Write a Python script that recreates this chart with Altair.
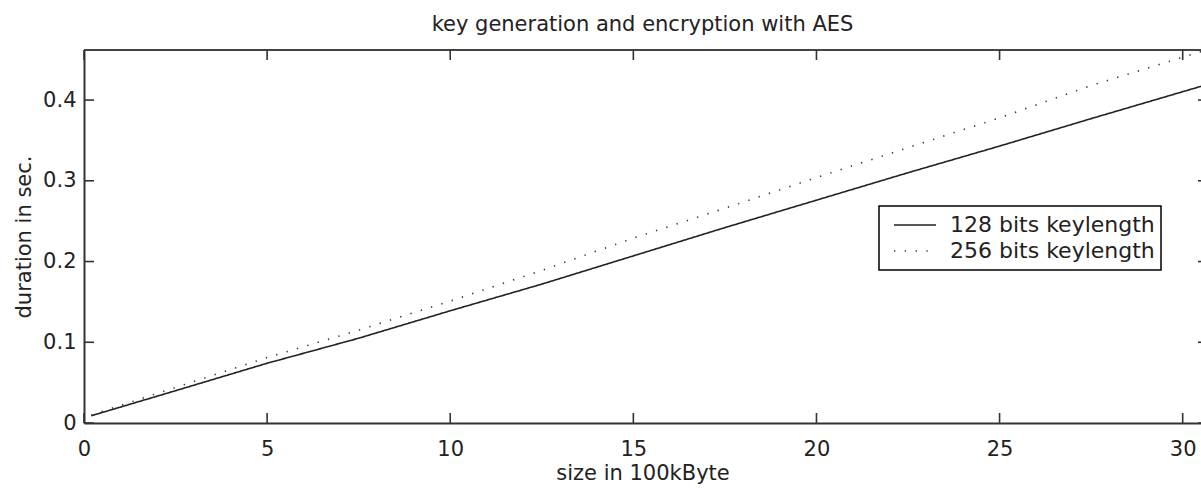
import altair as alt
import pandas as pd

title_text = "key generation and encryption with AES"
x_title = "size in 100kByte"
y_title = "duration in sec."
series_names = ["128 bits keylength", "256 bits keylength"]

size_100kb = [0.2, 2.5, 5, 7.5, 10, 12.5, 15, 17.5, 20, 22.5, 25, 27.5, 30.5]
dur_128 = [0.009, 0.040, 0.074, 0.105, 0.139, 0.172, 0.207, 0.242, 0.276, 0.310, 0.343, 0.377, 0.417]
dur_256 = [0.010, 0.044, 0.081, 0.115, 0.151, 0.189, 0.229, 0.266, 0.304, 0.341, 0.378, 0.418, 0.460]

x_ticks = [0, 5, 10, 15, 20, 25, 30]
y_ticks = [0, 0.1, 0.2, 0.3, 0.4]

W, H = 1117, 373
FONT = "DejaVu Sans"
TXT = "#222222"
AX = "#333333"

n = len(size_100kb)
df = pd.DataFrame({
    "x": size_100kb + size_100kb,
    "y": dur_128 + dur_256,
    "series": [series_names[0]] * n + [series_names[1]] * n,
})
xt = pd.DataFrame({"x": x_ticks})
yt = pd.DataFrame({"y": y_ticks})

xs = alt.Scale(domain=[0, 30.5], nice=False, zero=False)
ys = alt.Scale(domain=[0, 0.462], nice=False, zero=False)

x_axis = alt.Axis(values=x_ticks, ticks=False, tickSize=0, grid=False,
                  domainColor=AX, domainWidth=2,
                  labelFont=FONT, labelFontSize=21, labelColor=TXT,
                  labelPadding=15, labelFlush=False,
                  title=x_title, titleFont=FONT, titleFontSize=21,
                  titleFontWeight="normal", titleColor=TXT,
                  titleX=W / 2, titleY=56, titleAlign="center",
                  titleBaseline="alphabetic")
y_axis = alt.Axis(values=y_ticks, ticks=False, tickSize=0, grid=False,
                  format=".1~f",
                  domainColor=AX, domainWidth=2,
                  labelFont=FONT, labelFontSize=21, labelColor=TXT,
                  labelPadding=8, labelBaseline="middle",
                  title=y_title, titleFont=FONT, titleFontSize=21,
                  titleFontWeight="normal", titleColor=TXT,
                  titleX=-54, titleY=H / 2, titleAngle=270,
                  titleAlign="center", titleBaseline="alphabetic")

legend = alt.Legend(orient="none", legendX=795, legendY=156, title=None,
                    fillColor="white", strokeColor="black", padding=6,
                    symbolType="stroke", symbolSize=1764, symbolStrokeWidth=1.5,
                    symbolOffset=8, labelOffset=13, labelFont=FONT,
                    labelFontSize=22, labelColor=TXT, labelLimit=400,
                    clipHeight=26, rowPadding=0)

lines = alt.Chart(df).mark_line(clip=True, strokeWidth=1.6).encode(
    x=alt.X("x:Q", scale=xs, axis=x_axis),
    y=alt.Y("y:Q", scale=ys, axis=y_axis),
    color=alt.Color("series:N", scale=alt.Scale(domain=series_names,
                    range=["#222222", "#333333"]), legend=legend),
    strokeDash=alt.StrokeDash("series:N", scale=alt.Scale(domain=series_names,
                    range=[[1, 0], [1.3, 9.5]]), legend=legend),
    order="x:Q",
)

tick_style = dict(color="#333333", thickness=1.6, size=10, opacity=1)
bottom_ticks = alt.Chart(xt).mark_tick(orient="vertical", **tick_style).encode(
    x=alt.X("x:Q", scale=xs, axis=x_axis), y=alt.value(H - 5))
top_ticks = alt.Chart(xt).mark_tick(orient="vertical", **tick_style).encode(
    x=alt.X("x:Q", scale=xs, axis=x_axis), y=alt.value(5))
left_ticks = alt.Chart(yt).mark_tick(orient="horizontal", **tick_style).encode(
    y=alt.Y("y:Q", scale=ys, axis=y_axis), x=alt.value(5))
right_ticks = alt.Chart(yt).mark_tick(orient="horizontal", **tick_style).encode(
    y=alt.Y("y:Q", scale=ys, axis=y_axis), x=alt.value(W + 2))
top_line = alt.Chart(xt).mark_rule(color="#444444", strokeWidth=2).encode(
    x=alt.value(0), x2=alt.value(W + 10), y=alt.value(0))

chart = alt.layer(top_line, bottom_ticks, top_ticks, left_ticks, right_ticks, lines).properties(
    width=W, height=H,
    title=alt.TitleParams(title_text, font=FONT, fontSize=21, fontWeight="normal",
                          color=TXT, anchor="middle", offset=14),
    autosize=alt.AutoSizeParams(type="none"),
    padding={"left": 84, "top": 50, "right": 0, "bottom": 66},
    background="white",
).configure_view(stroke=None).configure_legend(strokeWidth=1.5)

chart.save("out.html", embed_options={"renderer": "svg", "actions": False})
